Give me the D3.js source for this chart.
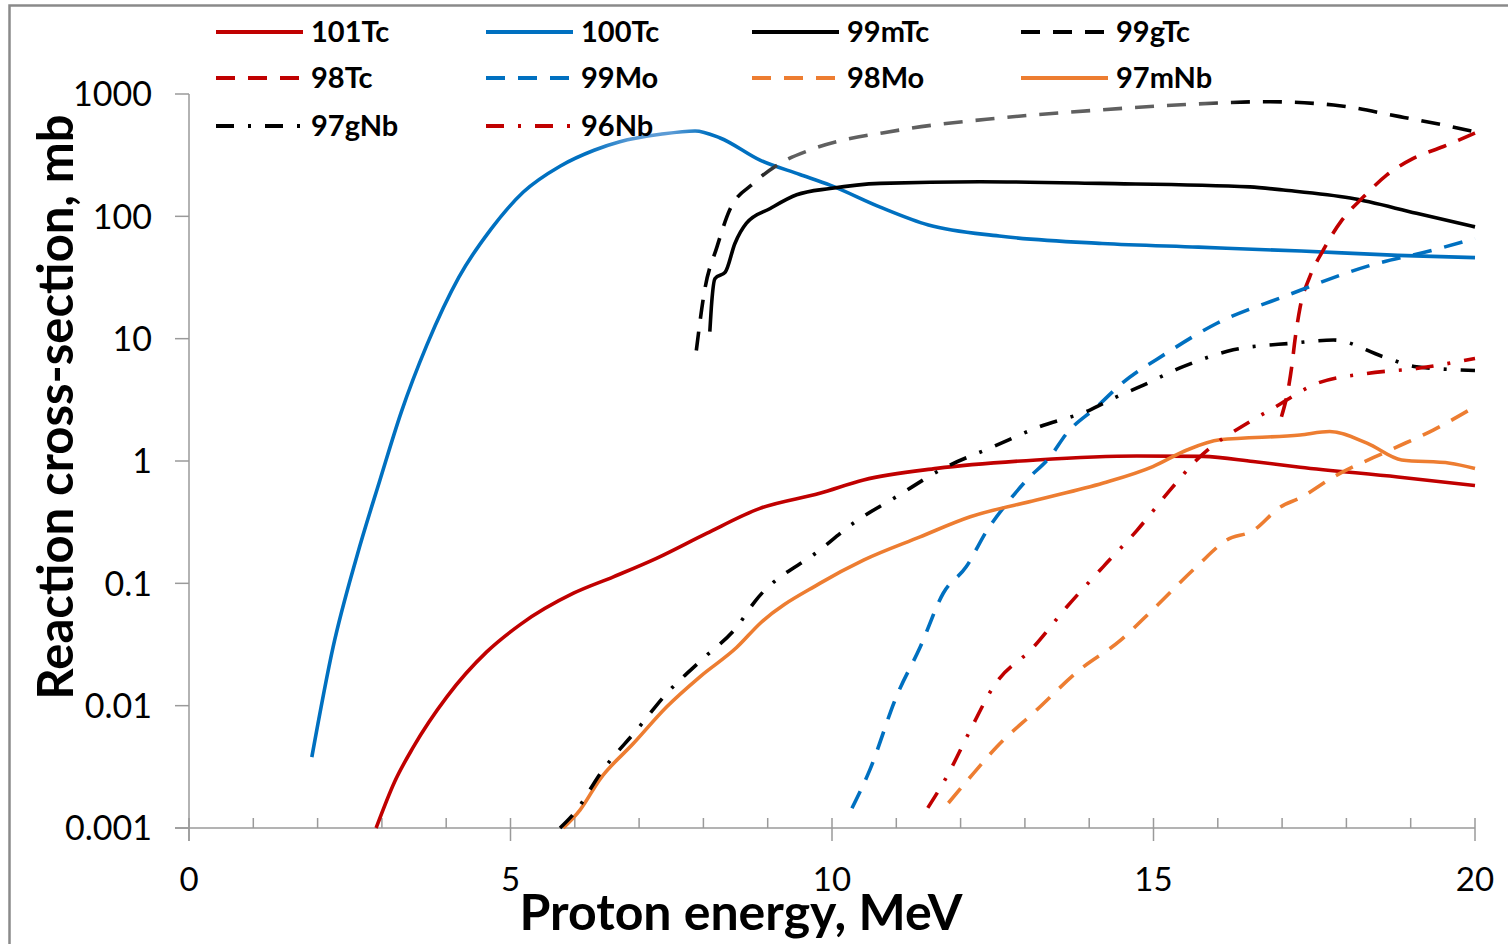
<!DOCTYPE html>
<html>
<head>
<meta charset="utf-8">
<script src="https://cdn.jsdelivr.net/npm/d3@7"></script>
<style>
  body { margin: 0; background: #fff; }
  text { font-family: Lato, "Open Sans", sans-serif; fill: #000; }
</style>
</head>
<body>
<div id="chart"></div>
<script>
// ---------------- data ----------------
// each point: [proton energy MeV, cross-section mb]
const tc101 = [[2.91,0.001],[3.2,0.0024],[3.49,0.0046],[4.01,0.0118],[4.63,0.0275],[5.15,0.046],[5.98,0.083],[6.6,0.113],[7.27,0.16],[8.05,0.256],[8.88,0.41],[9.81,0.545],[10.49,0.70],[11.63,0.87],[13.18,1.02],[14.74,1.10],[15.77,1.09],[16.55,0.99],[17.28,0.89],[18.8,0.74],[20,0.63]];
const tc100 = [[1.91,0.0038],[2.24,0.030],[2.61,0.166],[2.97,0.70],[3.3,2.5],[3.7,8.9],[4.2,32],[4.7,79],[5.2,158],[5.77,257],[6.3,347],[6.7,407],[7.33,468],[7.87,499],[8.26,437],[8.88,288],[9.5,220],[9.97,180],[10.75,119],[11.5,85],[12.6,69],[14.2,60],[15.7,56],[17.3,52],[18.8,48],[20,46]];
const tc99m = [[8.1,11.4],[8.13,20],[8.18,31],[8.34,35],[8.49,60],[8.67,88],[9.04,116],[9.45,150],[9.97,169],[10.75,186],[12.3,192],[14.17,186],[16.5,174],[17.02,164],[18.06,141],[19.09,106],[20,82]];
const tc99g = [[7.89,8.0],[8.02,25],[8.21,56],[8.41,113],[8.78,186],[9.19,271],[9.66,349],[11.06,508],[12.6,636],[14.17,741],[15.5,820],[16.76,865],[17.8,813],[18.83,653],[19.87,508],[20,490]];
const tc98 = [[16.99,2.3],[17.1,4.0],[17.15,5.9],[17.2,9.75],[17.28,18],[17.43,32],[17.64,53],[17.93,93],[18.27,145],[18.63,218],[19.04,298],[19.51,372],[20,480]];
const mo99 = [[10.31,0.00145],[10.59,0.003],[11.0,0.0118],[11.37,0.030],[11.73,0.083],[12.09,0.137],[12.41,0.27],[12.72,0.45],[13.03,0.70],[13.39,1.08],[13.65,1.68],[14.12,2.78],[14.48,4.18],[15.2,7.6],[15.98,13.3],[17.02,22],[18.32,39],[19.35,53],[20,66]];
const mo98 = [[11.81,0.0016],[12.2,0.0028],[12.56,0.0046],[13.18,0.0092],[13.85,0.0196],[14.48,0.034],[14.99,0.061],[15.67,0.137],[16.14,0.226],[16.55,0.27],[16.97,0.42],[17.28,0.50],[17.8,0.74],[18.68,1.23],[19.35,1.79],[20,2.78]];
const nb97m = [[5.82,0.001],[6.08,0.0014],[6.39,0.0025],[6.91,0.0049],[7.43,0.0098],[7.95,0.0173],[8.52,0.030],[8.88,0.047],[9.81,0.1],[10.49,0.155],[11.37,0.24],[12.15,0.35],[13.18,0.48],[14.22,0.66],[14.99,0.90],[15.52,1.23],[16.03,1.49],[17.28,1.63],[17.74,1.74],[18.32,1.40],[18.86,1.02],[19.61,0.96],[20,0.87]];
const nb97g = [[5.77,0.001],[5.98,0.0013],[6.44,0.003],[6.96,0.0063],[7.43,0.0126],[8.0,0.0244],[8.52,0.044],[8.8,0.071],[9.81,0.187],[10.33,0.31],[11.0,0.51],[11.73,0.87],[12.51,1.31],[13.23,1.91],[14.01,2.61],[14.38,3.26],[14.79,4.05],[15.46,5.9],[16.24,8.1],[17.18,9.2],[17.8,9.75],[18.58,7.1],[19.09,5.9],[20,5.5]];
const nb96 = [[11.49,0.00146],[11.78,0.0026],[12.15,0.0063],[12.51,0.0143],[13.13,0.030],[13.65,0.064],[14.22,0.137],[14.74,0.27],[15.26,0.58],[15.67,1.02],[16.5,2.1],[16.86,2.7],[17.54,4.3],[18.32,5.2],[19.09,5.7],[20,6.9]];

const seriesNames = ["101Tc","100Tc","99mTc","99gTc","98Tc","99Mo","98Mo","97mNb","97gNb","96Nb"];
const seriesData = [tc101, tc100, tc99m, tc99g, tc98, mo99, mo98, nb97m, nb97g, nb96];

const xTicks = [0,5,10,15,20];
const xMinor = d3.range(0, 21);
const yTicks = [0.001,0.01,0.1,1,10,100,1000];
const yTickLabels = ["0.001","0.01","0.1","1","10","100","1000"];

// ---------------- styles ----------------
const red = "#C00000", blue = "#0070C0", orange = "#ED7D31", black = "#000";
const DASH = "19,13", DASHDOT = "18,14,3,14";
const styles = {
  "101Tc": { color: red, dash: null },
  "100Tc": { color: "url(#grad100)", legend: blue, dash: null },
  "99mTc": { color: black, dash: null },
  "99gTc": { color: "url(#grad99g)", legend: black, dash: DASH },
  "98Tc":  { color: red, dash: DASH },
  "99Mo":  { color: blue, dash: DASH },
  "98Mo":  { color: orange, dash: DASH },
  "97mNb": { color: orange, dash: null },
  "97gNb": { color: black, dash: DASHDOT },
  "96Nb":  { color: red, dash: DASHDOT }
};

////////////////////////////  Init  ///////////////////////////////
const width = 1508, height = 944;
const margin = { top: 94, right: 33, bottom: 116, left: 189 };

const svg = d3.select("#chart").append("svg")
  .attr("width", width).attr("height", height);

// outer frame
svg.append("rect")
  .attr("x", 9.5).attr("y", 5.5)
  .attr("width", width + 20).attr("height", height + 20)
  .attr("fill", "none").attr("stroke", "#8a8a8a").attr("stroke-width", 2.5);

const xScale = d3.scaleLinear().domain([0, 20]).range([margin.left, width - margin.right]);
const yScale = d3.scaleLog().domain([0.001, 1000]).range([height - margin.bottom, margin.top]);

// gradients for the colour shading seen on two curves
const defs = svg.append("defs");
function addGrad(id, stops) {
  const g = defs.append("linearGradient").attr("id", id)
    .attr("gradientUnits", "userSpaceOnUse")
    .attr("x1", xScale(0)).attr("x2", xScale(20)).attr("y1", 0).attr("y2", 0);
  stops.forEach(s => g.append("stop").attr("offset", s[0] / 20).attr("stop-color", s[1]));
}
addGrad("grad99g", [[0,black],[8.6,black],[9.4,"#606060"],[15.8,"#606060"],[16.4,black],[20,black]]);
addGrad("grad100", [[0,blue],[6.2,blue],[6.9,"#5B9BD5"],[7.5,"#5B9BD5"],[8.1,blue],[20,blue]]);

// ---------------- axes ----------------
const axisColor = "#9a9a9a";
const axisG = svg.append("g");
const x0 = xScale(0), yBase = yScale(0.001);

// y axis line and ticks
axisG.append("line").attr("x1", x0).attr("x2", x0)
  .attr("y1", yScale(1000)).attr("y2", yBase + 13)
  .attr("stroke", axisColor).attr("stroke-width", 1.5);
axisG.selectAll(".ytick").data(yTicks).join("line")
  .attr("x1", x0 - 14).attr("x2", x0)
  .attr("y1", d => yScale(d)).attr("y2", d => yScale(d))
  .attr("stroke", axisColor).attr("stroke-width", 1.5);
axisG.selectAll(".ylab").data(yTicks).join("text")
  .attr("x", 152).attr("y", d => yScale(d))
  .attr("dy", "0.36em").attr("text-anchor", "end")
  .attr("font-size", 34)
  .text((d, i) => yTickLabels[i]);

// x axis line and ticks
axisG.append("line").attr("x1", x0 - 14).attr("x2", xScale(20))
  .attr("y1", yBase).attr("y2", yBase)
  .attr("stroke", axisColor).attr("stroke-width", 1.5);
axisG.selectAll(".xminor").data(xMinor).join("line")
  .attr("x1", d => xScale(d)).attr("x2", d => xScale(d))
  .attr("y1", yBase - 10)
  .attr("y2", d => (d % 5 === 0 ? yBase + 13 : yBase))
  .attr("stroke", axisColor).attr("stroke-width", 1.5);
axisG.selectAll(".xlab").data(xTicks).join("text")
  .attr("x", d => xScale(d)).attr("y", 891)
  .attr("text-anchor", "middle").attr("font-size", 33)
  .text(d => d);

// axis titles
svg.append("text")
  .attr("x", 741).attr("y", 930)
  .attr("text-anchor", "middle").attr("font-size", 50).attr("font-weight", 700)
  .text("Proton energy, MeV");
svg.append("text")
  .attr("transform", "translate(73,407) rotate(-90)")
  .attr("text-anchor", "middle").attr("font-size", 49).attr("font-weight", 700)
  .text("Reaction cross-section, mb");

// ---------------- lines ----------------
const line = d3.line()
  .x(d => xScale(d[0]))
  .y(d => yScale(d[1]))
  .curve(d3.curveMonotoneX);

const plotG = svg.append("g");
seriesNames.forEach((name, i) => {
  const st = styles[name];
  plotG.append("path")
    .datum(seriesData[i])
    .attr("d", line)
    .attr("fill", "none")
    .attr("stroke", st.color)
    .attr("stroke-width", 3.6)
    .attr("stroke-linejoin", "round")
    .attr("stroke-dasharray", st.dash);
});

// ---------------- legend ----------------
const legCols = [216, 486, 752, 1021];
const legRows = [32, 78, 126];
const legend = svg.append("g");
seriesNames.forEach((name, i) => {
  const st = styles[name];
  const lx = legCols[i % 4], ly = legRows[Math.floor(i / 4)];
  legend.append("line")
    .attr("x1", lx).attr("x2", lx + 87)
    .attr("y1", ly).attr("y2", ly)
    .attr("stroke", st.legend || st.color)
    .attr("stroke-width", 4)
    .attr("stroke-dasharray", st.dash);
  legend.append("text")
    .attr("x", lx + 95).attr("y", ly)
    .attr("dy", "0.36em")
    .attr("font-size", 29).attr("font-weight", 700)
    .text(name);
});
</script>
</body>
</html>
